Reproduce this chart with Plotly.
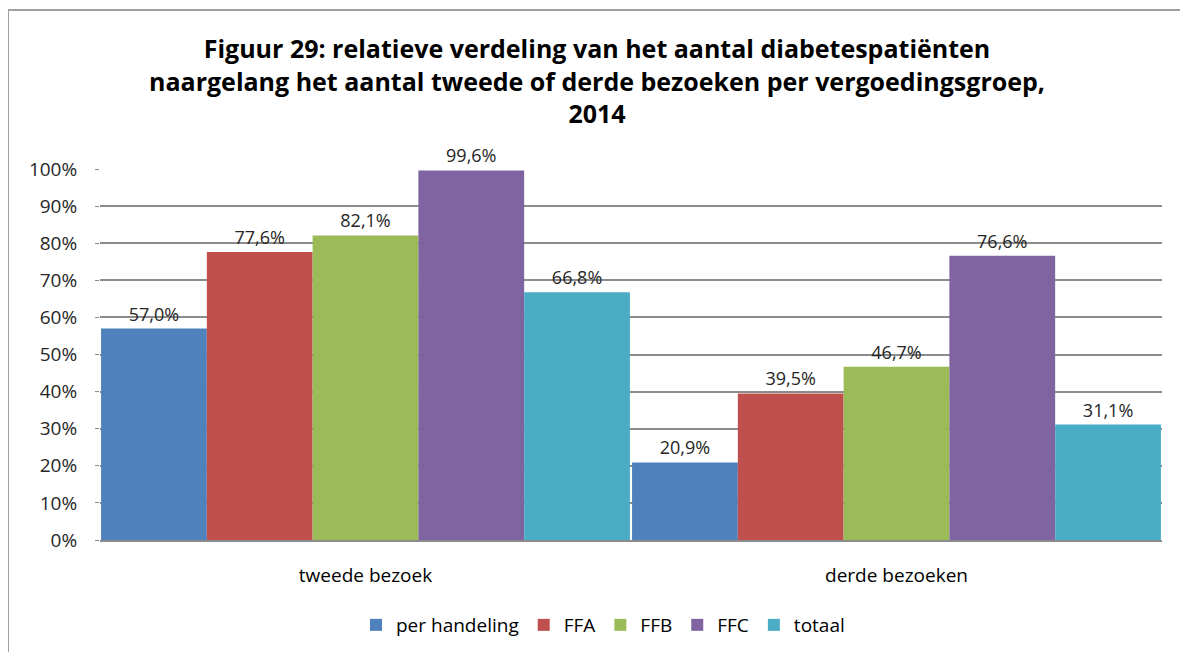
import plotly.graph_objects as go

categories = ["tweede bezoek", "derde bezoeken"]
series_names = ["per handeling", "FFA", "FFB", "FFC", "totaal"]
per_handeling = [57.0, 20.9]
ffa = [77.6, 39.5]
ffb = [82.1, 46.7]
ffc = [99.6, 76.6]
totaal = [66.8, 31.1]
colors = ["#4F81BD", "#C0504D", "#9BBB59", "#8064A2", "#4BACC6"]
y_ticks = [0, 10, 20, 30, 40, 50, 60, 70, 80, 90, 100]

series_values = [per_handeling, ffa, ffb, ffc, totaal]
FONT = "Open Sans, Noto Sans, sans-serif"

fig = go.Figure()
for name, vals, col in zip(series_names, series_values, colors):
    fig.add_trace(go.Bar(
        x=categories, y=vals, name=name,
        marker=dict(color=col, line=dict(width=0)),
        text=[f"{v:.1f}%".replace(".", ",") for v in vals],
        textposition="outside",
        textfont=dict(family=FONT, size=18, color="#262626"),
        cliponaxis=False,
    ))

# page body adds an 8px offset; figure is sized to fit the window
W, H = 1180, 644
L, R, T, B = 92, 26, 161, 112
pw, ph = W - L - R, H - T - B

fig.update_layout(
    width=W, height=H,
    barmode="group", bargap=0.004, bargroupgap=0,
    plot_bgcolor="white", paper_bgcolor="white",
    margin=dict(l=L, r=R, t=T, b=B, autoexpand=False),
    title=dict(
        text="<b>Figuur 29: relatieve verdeling van het aantal diabetespatiënten<br>naargelang het aantal tweede of derde bezoeken per vergoedingsgroep,<br>2014</b>",
        x=(597 - 8) / W, xanchor="center", y=0.922, yanchor="top",
        font=dict(family=FONT, size=25, color="#000000"),
    ),
    font=dict(family=FONT, size=19, color="#262626"),
    showlegend=True,
    legend=dict(
        orientation="h", x=(603 - 8 - L) / pw, xanchor="center", y=(532 - 617) / ph, yanchor="middle",
        font=dict(family=FONT, size=19, color="#000000"), traceorder="normal",
        itemwidth=30,
    ),
)
fig.update_yaxes(
    range=[0, 100], tickvals=y_ticks, ticktext=[f"{v}%" for v in y_ticks],
    showgrid=True, gridcolor="#8C8C8C", gridwidth=1.5,
    ticks="outside", ticklen=4, tickcolor="#8C8C8C",
    showline=False, zeroline=False,
    ticklabelstandoff=14,
    tickfont=dict(family=FONT, size=19, color="#262626"),
)
fig.update_xaxes(
    showline=True, linecolor="#8C8C8C", linewidth=1.5,
    ticks="", ticklabelstandoff=17,
    tickfont=dict(family=FONT, size=19, color="#000000"),
)

# outer chart border
fig.add_shape(
    type="rect", xref="paper", yref="paper",
    x0=(0 - L) / pw, x1=(1178 - L) / pw,
    y0=((H - B) - (H + 5)) / ph, y1=((H - B) - 2) / ph,
    line=dict(color="#A0A0A0", width=2), fillcolor="rgba(0,0,0,0)", layer="below",
)

fig.write_html("out.html")
